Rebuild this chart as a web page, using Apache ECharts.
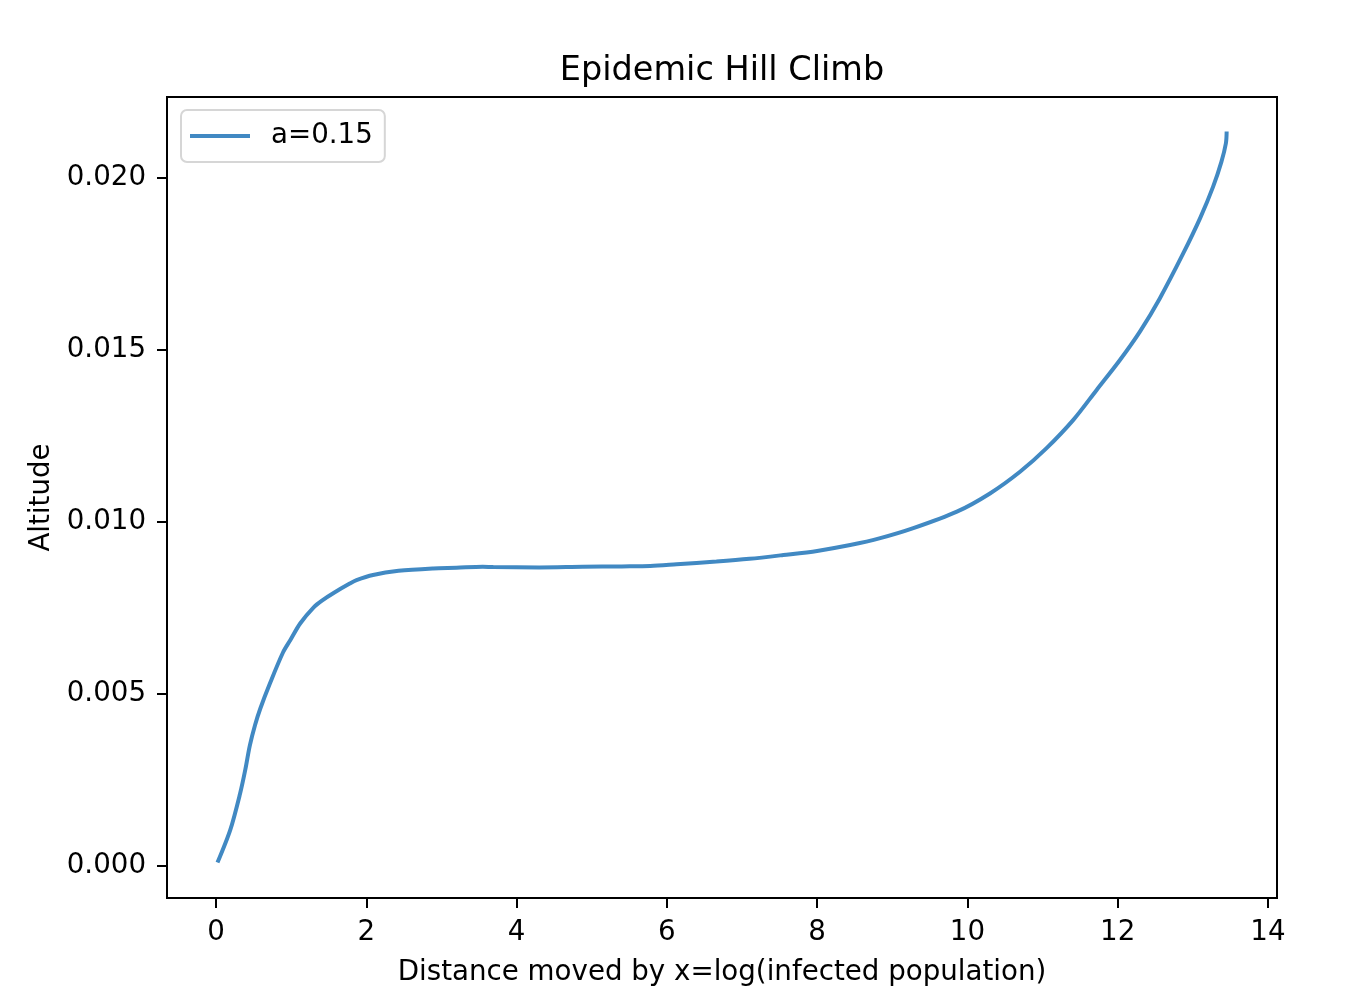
<!DOCTYPE html>
<html>
<head>
<meta charset="utf-8">
<script src="https://cdn.jsdelivr.net/npm/echarts@6/dist/echarts.min.js"></script>
<style>html,body{margin:0;padding:0;background:#fff;}#c{width:1356px;height:1006px;}</style>
</head>
<body>
<div id="c"></div>
<script>
const xValues = [0.02, 0.19, 0.32, 0.39, 0.45, 0.52, 0.59, 0.72, 0.89, 0.99, 1.12, 1.30, 1.42, 1.56, 1.78, 1.87, 2.09, 2.43, 2.89, 3.2, 3.55, 3.69, 4.3, 4.88, 5.4, 5.78, 6.13, 6.66, 7.1, 7.55, 8.0, 8.44, 8.84, 9.28, 9.86, 10.30, 10.70, 11.05, 11.41, 11.72, 12.03, 12.30, 12.56, 12.87, 13.10, 13.27, 13.38, 13.44, 13.45];
const altitude = [0.0001, 0.00105, 0.0021, 0.0028, 0.0035, 0.0041, 0.00458, 0.00532, 0.0062, 0.00657, 0.00705, 0.00752, 0.00773, 0.00793, 0.00821, 0.00831, 0.00846, 0.00858, 0.00865, 0.00867, 0.0087, 0.00869, 0.00868, 0.0087, 0.00871, 0.00872, 0.00877, 0.00885, 0.00893, 0.00904, 0.00916, 0.00933, 0.00953, 0.00982, 0.0103, 0.01083, 0.01146, 0.01214, 0.01297, 0.01384, 0.01471, 0.01555, 0.0165, 0.0178, 0.01885, 0.01975, 0.02047, 0.02101, 0.02135];
const xTicks = [0, 2, 4, 6, 8, 10, 12, 14];
const yTicks = [0, 0.005, 0.010, 0.015, 0.020];
const seriesName = 'a=0.15';

const FONT = 'DejaVu Sans';
const FS = 27.7;
const chart = echarts.init(document.getElementById('c'), null, {renderer: 'canvas'});
chart.setOption({
  animation: false,
  backgroundColor: '#fff',
  title: {
    text: 'Epidemic Hill Climb',
    left: 717, top: 49, textAlign: 'center',
    textStyle: {fontFamily: FONT, fontSize: 33.5, fontWeight: 'normal', color: '#000'}
  },
  legend: {
    left: 181, top: 110,
    padding: [12, 12, 12, 9],
    itemWidth: 60, itemHeight: 4,
    icon: 'rect',
    borderColor: '#d6d6d6', borderWidth: 2, borderRadius: 6,
    textStyle: {fontFamily: FONT, fontSize: FS, color: '#000', padding: [0, 0, 0, 16]},
    data: [seriesName]
  },
  grid: {left: 167, right: 79, top: 97, bottom: 108, show: true, borderColor: '#000', borderWidth: 2, containLabel: false},
  xAxis: {
    type: 'value', min: -0.652, max: 14.12,
    name: 'Distance moved by x=log(infected population)',
    nameLocation: 'middle', nameGap: 61,
    nameTextStyle: {fontFamily: FONT, fontSize: FS, color: '#000'},
    axisLine: {show: true, onZero: false, lineStyle: {color: '#000', width: 2}},
    axisTick: {show: true, inside: false, length: 10, lineStyle: {color: '#000', width: 2}, customValues: xTicks},
    axisLabel: {fontFamily: FONT, fontSize: FS, color: '#000', margin: 21, customValues: xTicks, formatter: v => String(v)},
    splitLine: {show: false}
  },
  yAxis: {
    type: 'value', min: -0.00093, max: 0.022355,
    name: 'Altitude',
    nameLocation: 'middle', nameGap: 110, nameRotate: 90,
    nameTextStyle: {fontFamily: FONT, fontSize: FS, color: '#000'},
    axisLine: {show: true, onZero: false, lineStyle: {color: '#000', width: 2}},
    axisTick: {show: true, inside: false, length: 10, lineStyle: {color: '#000', width: 2}, customValues: yTicks},
    axisLabel: {fontFamily: FONT, fontSize: FS, color: '#000', margin: 21, customValues: yTicks, formatter: v => v.toFixed(3)},
    splitLine: {show: false}
  },
  series: [{
    name: seriesName,
    type: 'line',
    data: xValues.map((x, i) => [x, altitude[i]]),
    showSymbol: false, symbol: 'none',
    smooth: 0.3,
    lineStyle: {color: '#4189c3', width: 4},
    itemStyle: {color: '#4189c3'}
  }]
});
</script>
</body>
</html>
